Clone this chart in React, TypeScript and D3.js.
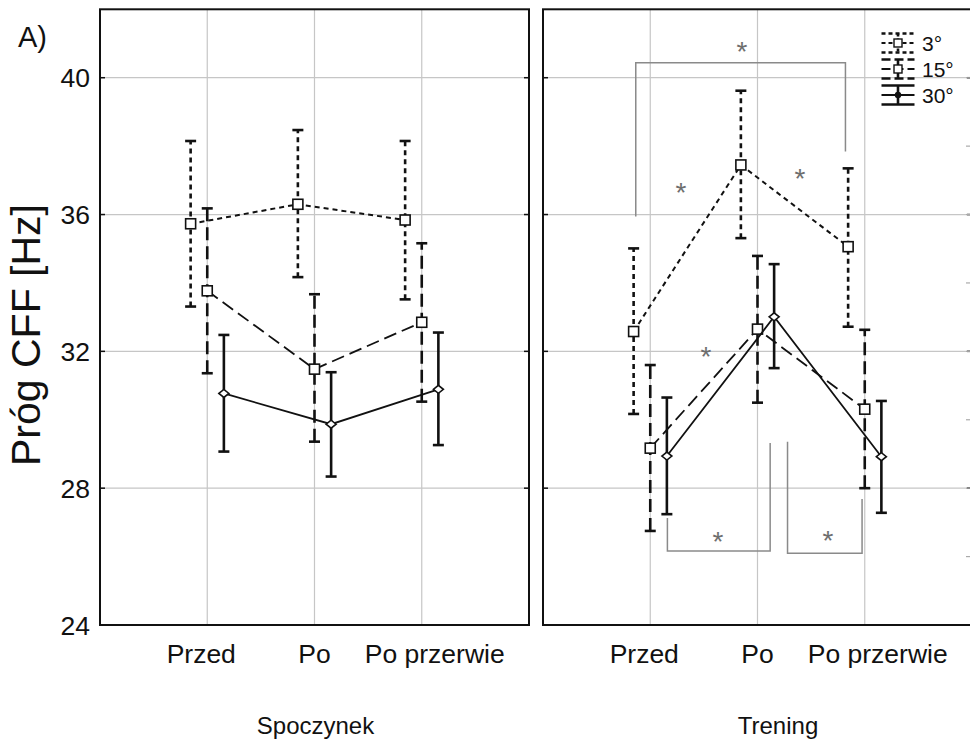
import React from "react";
import * as d3 from "d3";

// Measurement points and temperature groups
const conditions = ["Przed", "Po", "Po przerwie"];
const seriesNames = ["3°", "15°", "30°"];
const panelNames = ["Spoczynek", "Trening"];
const yTicks = [24, 28, 32, 36, 40];

// Spoczynek: mean, lower and upper limits per series (3°, 15°, 30°)
const restMean = [
  [35.73, 36.3, 35.84],
  [33.77, 31.48, 32.85],
  [30.77, 29.87, 30.89],
];
const restLow = [
  [33.31, 34.17, 33.52],
  [31.36, 29.36, 30.53],
  [29.07, 28.34, 29.26],
];
const restHigh = [
  [38.15, 38.47, 38.15],
  [36.18, 33.67, 35.16],
  [32.48, 31.39, 32.55],
];

// Trening
const trainMean = [
  [32.58, 37.45, 35.06],
  [29.17, 32.65, 30.31],
  [28.94, 33.01, 28.92],
];
const trainLow = [
  [30.17, 35.31, 32.72],
  [26.75, 30.5, 28.0],
  [27.24, 31.51, 27.28],
];
const trainHigh = [
  [35.01, 39.62, 37.35],
  [31.6, 34.79, 32.63],
  [30.65, 34.55, 30.55],
];

// Significance brackets for the training panel (x in category units, y in Hz)
const brackets = [
  { x1: 0.865, y1: 35.94, x2: 2.82, y2: 37.84, yBar: 40.44 },
  { x1: 1.16, y1: 27.13, x2: 2.118, y2: 29.32, yBar: 26.16 },
  { x1: 2.28, y1: 29.36, x2: 2.975, y2: 27.68, yBar: 26.1 },
];
const stars = [
  { x: 1.855, y: 40.96 },
  { x: 1.287, y: 36.82 },
  { x: 2.396, y: 37.25 },
  { x: 1.52, y: 32.04 },
  { x: 1.632, y: 26.63 },
  { x: 2.657, y: 26.66 },
];

const W = 970;
const H = 743;
const TOP = 9.3;
const BOTTOM = 625;
const PANEL_W = 429;
const panelLeft = [100, 543];
const seriesOffset = [-0.155, 0, 0.155];
const labelShift = [-6, 0, 13];
const lineDash = ["5 4", "13 6", null];
const barDash = ["5 4", "13 6", null];
const FONT = "Liberation Sans, Arial, sans-serif";

const y = d3.scaleLinear().domain([24, 42]).range([BOTTOM, TOP]);

function Marker({ cx, cy, kind }: { cx: number; cy: number; kind: number }) {
  if (kind < 2) {
    const s = 10;
    return (
      <rect x={cx - s / 2} y={cy - s / 2} width={s} height={s} fill="white" stroke="#111" strokeWidth={1.6} />
    );
  }
  const path = d3.path();
  path.moveTo(cx - 5, cy);
  path.lineTo(cx, cy - 4);
  path.lineTo(cx + 5, cy);
  path.lineTo(cx, cy + 4);
  path.closePath();
  return <path d={path.toString()} fill="white" stroke="#111" strokeWidth={1.6} />;
}

function Panel({ index, means, lows, highs }: { index: number; means: number[][]; lows: number[][]; highs: number[][] }) {
  const left = panelLeft[index];
  const x = d3.scaleLinear().domain([0, 4]).range([left, left + PANEL_W]);
  const minorTicks = d3.range(26, 42, 2);
  return (
    <g>
      {/* grid */}
      {yTicks.slice(1).map((t) => (
        <line key={"gy" + t} x1={left} x2={left + PANEL_W} y1={y(t)} y2={y(t)} stroke="#c6c6c6" strokeWidth={1.2} />
      ))}
      {conditions.map((c, i) => (
        <line key={"gx" + c} x1={x(i + 1)} x2={x(i + 1)} y1={TOP} y2={BOTTOM} stroke="#c6c6c6" strokeWidth={1.2} />
      ))}
      {/* inner ticks */}
      {yTicks.slice(1).map((t) => (
        <g key={"tk" + t}>
          <line x1={left} x2={left + 5} y1={y(t)} y2={y(t)} stroke="#111" strokeWidth={1.5} />
          <line x1={left + PANEL_W - 5} x2={left + PANEL_W} y1={y(t)} y2={y(t)} stroke="#111" strokeWidth={1.5} />
        </g>
      ))}
      {index === 1 &&
        minorTicks.map((t) => (
          <line key={"mt" + t} x1={left + PANEL_W - 6} x2={left + PANEL_W} y1={y(t)} y2={y(t)} stroke="#aaa" strokeWidth={1.2} />
        ))}
      {/* significance brackets */}
      {index === 1 &&
        brackets.map((b, i) => {
          const p = d3.path();
          p.moveTo(x(b.x1), y(b.y1));
          p.lineTo(x(b.x1), y(b.yBar));
          p.lineTo(x(b.x2), y(b.yBar));
          p.lineTo(x(b.x2), y(b.y2));
          return <path key={"br" + i} d={p.toString()} fill="none" stroke="#8a8a8a" strokeWidth={1.5} />;
        })}
      {index === 1 &&
        stars.map((s, i) => (
          <text key={"st" + i} x={x(s.x)} y={y(s.y) + 0.57 * 28} textAnchor="middle" fontFamily={FONT} fontSize={28} fill="#6e6e6e">
            *
          </text>
        ))}
      {/* series */}
      {seriesNames.map((name, si) => {
        const xs = d3
          .line<number>()
          .x((_, i) => x(i + 1 + seriesOffset[si]))
          .y((v) => y(v));
        return (
          <g key={name}>
            <path d={xs(means[si]) || ""} fill="none" stroke="#111" strokeWidth={si === 0 ? 2 : 1.8} strokeDasharray={lineDash[si] || undefined} />
            {means[si].map((m, ci) => {
              const cx = x(ci + 1 + seriesOffset[si]);
              return (
                <g key={ci}>
                  <line x1={cx} x2={cx} y1={y(lows[si][ci])} y2={y(highs[si][ci])} stroke="#111" strokeWidth={2.6} strokeDasharray={barDash[si] || undefined} />
                  <line x1={cx - 5.5} x2={cx + 5.5} y1={y(lows[si][ci])} y2={y(lows[si][ci])} stroke="#111" strokeWidth={2.6} />
                  <line x1={cx - 5.5} x2={cx + 5.5} y1={y(highs[si][ci])} y2={y(highs[si][ci])} stroke="#111" strokeWidth={2.6} />
                  <Marker cx={cx} cy={y(m)} kind={si} />
                </g>
              );
            })}
          </g>
        );
      })}
      {/* frame */}
      <rect x={left} y={TOP} width={PANEL_W} height={BOTTOM - TOP} fill="none" stroke="#111" strokeWidth={2} />
      {/* category labels */}
      {conditions.map((c, i) => (
        <text key={"xl" + c} x={x(i + 1) + labelShift[i]} y={663} textAnchor="middle" fontFamily={FONT} fontSize={26.5} fill="#111">
          {c}
        </text>
      ))}
      <text x={index === 0 ? 315.5 : 778} y={734} textAnchor="middle" fontFamily={FONT} fontSize={24} fill="#111">
        {panelNames[index]}
      </text>
    </g>
  );
}

function Legend() {
  const cx = 898;
  const half = 16.5;
  return (
    <g>
      {seriesNames.map((name, i) => {
        const cy = 43 + 26 * i;
        const hh = 9.5;
        const dash = barDash[i] ? (i === 0 ? "4 3" : "9 4") : undefined;
        return (
          <g key={name}>
            <line x1={cx - half} x2={cx + half} y1={cy - hh} y2={cy - hh} stroke="#111" strokeWidth={2.6} strokeDasharray={dash} />
            <line x1={cx - half} x2={cx + half} y1={cy} y2={cy} stroke="#111" strokeWidth={2} strokeDasharray={dash} />
            <line x1={cx - half} x2={cx + half} y1={cy + hh} y2={cy + hh} stroke="#111" strokeWidth={2.6} strokeDasharray={dash} />
            <line x1={cx} x2={cx} y1={cy - hh} y2={cy + hh} stroke="#111" strokeWidth={2.6} strokeDasharray={i === 0 ? "3 2" : undefined} />
            {i < 2 ? (
              <rect x={cx - 4} y={cy - 4} width={8} height={8} fill="white" stroke="#111" strokeWidth={1.4} />
            ) : (
              <circle cx={cx} cy={cy} r={3.2} fill="#111" />
            )}
            <text x={922} y={cy + 7.5} fontFamily={FONT} fontSize={21} fill="#111">
              {name}
            </text>
          </g>
        );
      })}
    </g>
  );
}

export default function App() {
  return (
    <svg width={W} height={H} viewBox={`0 0 ${W} ${H}`} style={{ position: "absolute", left: 0, top: 0, background: "white" }}>
      <rect width={W} height={H} fill="white" />
      <text x={18} y={47} fontFamily={FONT} fontSize={29} fill="#111">
        A)
      </text>
      {yTicks.map((t) => (
        <text key={t} x={90} y={y(t) + 9.5} textAnchor="end" fontFamily={FONT} fontSize={26.5} fill="#111">
          {t}
        </text>
      ))}
      <text transform={`translate(40,${335}) rotate(-90)`} textAnchor="middle" fontFamily={FONT} fontSize={41} fill="#111">
        Próg CFF [Hz]
      </text>
      <Panel index={0} means={restMean} lows={restLow} highs={restHigh} />
      <Panel index={1} means={trainMean} lows={trainLow} highs={trainHigh} />
      <Legend />
    </svg>
  );
}
